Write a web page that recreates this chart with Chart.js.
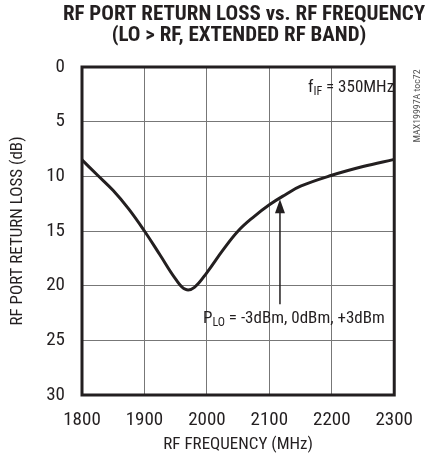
<!DOCTYPE html>
<html>
<head>
<meta charset="utf-8">
<script src="https://cdn.jsdelivr.net/npm/chart.js@4.4.0/dist/chart.umd.min.js"></script>
<style>
  html, body { margin: 0; padding: 0; background: #fff; }
  #wrap { width: 427px; height: 457px; }
</style>
</head>
<body>
<div id="wrap"><canvas id="chart" width="427" height="457"></canvas></div>
<script>
// values
const frequencies = [1800, 1825, 1850, 1875, 1900, 1925, 1950, 1966, 1980, 2000, 2025, 2050, 2075, 2100, 2125, 2150, 2200, 2250, 2300];
const returnLoss = [8.5, 9.9, 11.3, 13.0, 15.0, 17.2, 19.4, 20.35, 20.15, 18.8, 16.8, 15.0, 13.7, 12.6, 11.7, 10.9, 9.9, 9.1, 8.45];
const xTicks = [1800, 1900, 2000, 2100, 2200, 2300];
const yTicks = [0, 5, 10, 15, 20, 25, 30];
const titleLines = ['RF PORT RETURN LOSS vs. RF FREQUENCY', '(LO > RF, EXTENDED RF BAND)'];

const narrow = '"Roboto Condensed", "DejaVu Sans Condensed", sans-serif';
const ink = '#231f20';

// pick a font size so a text spans a given width
function fitFont(ctx, text, width, weight) {
    ctx.font = weight + ' 20px ' + narrow;
    const size = 20 * width / ctx.measureText(text).width;
    ctx.font = weight + ' ' + size.toFixed(1) + 'px ' + narrow;
    return size;
}

const extras = {
    id: 'extras',
    afterDraw(chart) {
        const ctx = chart.ctx;
        const area = chart.chartArea;
        const xs = chart.scales.x;
        const ys = chart.scales.y;
        ctx.save();

        // frame
        ctx.strokeStyle = ink;
        ctx.lineWidth = 3;
        ctx.strokeRect(area.left, area.top, area.right - area.left, area.bottom - area.top);

        // title
        ctx.fillStyle = ink;
        ctx.textAlign = 'center';
        ctx.textBaseline = 'middle';
        fitFont(ctx, titleLines[0], 362, 'bold');
        ctx.fillText(titleLines[0], 244, 15);
        ctx.fillText(titleLines[1], 239, 36);

        // f_IF label
        ctx.textAlign = 'left';
        ctx.textBaseline = 'alphabetic';
        let x = 308, y = 92;
        ctx.font = '17px ' + narrow;
        ctx.fillText('f', x, y);
        x += ctx.measureText('f').width;
        ctx.font = '12px ' + narrow;
        ctx.fillText('IF', x, y + 3);
        x += ctx.measureText('IF').width;
        ctx.font = '17px ' + narrow;
        ctx.fillText(' = 350MHz', x, y);

        // P_LO label
        x = 203; y = 323;
        ctx.fillText('P', x, y);
        x += ctx.measureText('P').width;
        ctx.font = '12px ' + narrow;
        ctx.fillText('LO', x, y + 3);
        x += ctx.measureText('LO').width;
        ctx.font = '17px ' + narrow;
        ctx.fillText(' = -3dBm, 0dBm, +3dBm', x, y);

        // arrow pointing at the curve
        const ax = xs.getPixelForValue(2117);
        const tipY = ys.getPixelForValue(12.1);
        ctx.strokeStyle = ink;
        ctx.lineWidth = 1.5;
        ctx.beginPath();
        ctx.moveTo(ax, ys.getPixelForValue(21.7));
        ctx.lineTo(ax, tipY + 12);
        ctx.stroke();
        ctx.beginPath();
        ctx.moveTo(ax, tipY);
        ctx.lineTo(ax - 5, tipY + 14);
        ctx.lineTo(ax + 5, tipY + 14);
        ctx.closePath();
        ctx.fill();

        // side reference text
        ctx.translate(418, 106);
        ctx.rotate(-Math.PI / 2);
        ctx.textAlign = 'center';
        ctx.textBaseline = 'middle';
        ctx.fillStyle = '#555';
        fitFont(ctx, 'MAX19997A toc72', 73, 'normal');
        ctx.fillText('MAX19997A toc72', 0, 0);

        ctx.restore();
    }
};

new Chart(document.getElementById('chart'), {
    type: 'line',
    data: {
        datasets: [{
            data: frequencies.map((f, i) => ({ x: f, y: returnLoss[i] })),
            borderColor: ink,
            borderWidth: 3,
            pointRadius: 0,
            fill: false,
            tension: 0.4
        }]
    },
    options: {
        responsive: false,
        animation: false,
        layout: { padding: { left: 0, right: 17, top: 67, bottom: 0 } },
        plugins: {
            legend: { display: false },
            tooltip: { enabled: false }
        },
        scales: {
            x: {
                type: 'linear',
                min: xTicks[0],
                max: xTicks[xTicks.length - 1],
                afterFit: s => { s.height = 62; },
                afterBuildTicks: s => { s.ticks = xTicks.map(v => ({ value: v })); },
                grid: { color: '#777', lineWidth: 1, drawTicks: false },
                border: { display: false },
                ticks: { color: ink, padding: 14, font: { family: narrow, size: 19 }, callback: v => String(v) },
                title: {
                    display: true,
                    text: 'RF FREQUENCY (MHz)',
                    color: ink,
                    font: { family: narrow, size: 17 },
                    padding: { top: 0, bottom: 2 }
                }
            },
            y: {
                min: yTicks[0],
                max: yTicks[yTicks.length - 1],
                reverse: true,
                afterFit: s => { s.width = 82; },
                afterBuildTicks: s => { s.ticks = yTicks.map(v => ({ value: v })); },
                grid: { color: '#777', lineWidth: 1, drawTicks: false },
                border: { display: false },
                ticks: { color: ink, padding: 17, font: { family: narrow, size: 19 }, callback: v => String(v) },
                title: {
                    display: true,
                    text: 'RF PORT RETURN LOSS (dB)',
                    color: ink,
                    font: { family: narrow, size: 17 },
                    padding: { top: 8, bottom: 0 }
                }
            }
        }
    },
    plugins: [extras]
});
</script>
</body>
</html>
